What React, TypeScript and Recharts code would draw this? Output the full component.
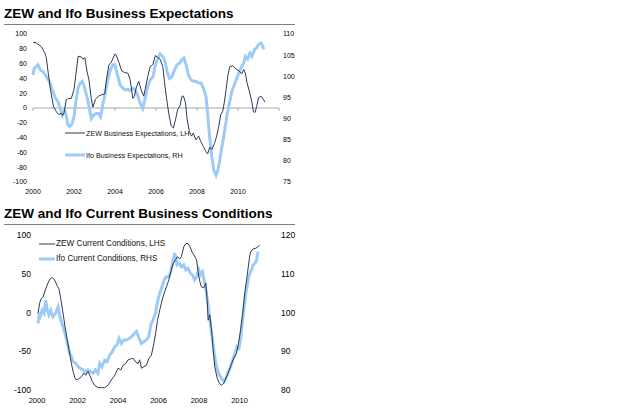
import React from "react";
import { Line, LineChart, ReferenceLine, XAxis, YAxis } from "recharts";

// ---- data (decimal year, value) ----
const zewExpectations: [number, number][] = [
  [2000.0, 89], [2000.16, 88], [2000.4, 83], [2000.57, 75], [2000.65, 68], [2000.73, 50],
  [2000.85, 25], [2001.0, 2], [2001.14, -5], [2001.27, -9], [2001.38, -7], [2001.45, -10],
  [2001.52, -6], [2001.62, 11], [2001.74, 13], [2001.87, 13], [2002.0, 25], [2002.1, 47],
  [2002.2, 70], [2002.35, 69], [2002.43, 66], [2002.53, 68], [2002.63, 50], [2002.73, 38],
  [2002.84, 13], [2002.92, 1], [2003.05, 12], [2003.2, 16], [2003.36, 18], [2003.5, 19],
  [2003.57, 36], [2003.7, 58], [2003.82, 62], [2004.0, 73], [2004.05, 72], [2004.2, 61],
  [2004.33, 50], [2004.46, 48], [2004.63, 47], [2004.74, 38], [2004.87, 13], [2004.95, 16],
  [2005.03, 27], [2005.16, 36], [2005.28, 24], [2005.4, 16], [2005.47, 25], [2005.6, 43],
  [2005.72, 56], [2005.85, 59], [2005.97, 71], [2006.09, 68], [2006.2, 66], [2006.33, 56],
  [2006.41, 36], [2006.5, 16], [2006.62, -7], [2006.74, -24], [2006.85, -27], [2006.95, -16],
  [2007.06, -2], [2007.17, 3], [2007.27, 16], [2007.34, 16], [2007.44, 7], [2007.52, -16],
  [2007.63, -32], [2007.73, -38], [2007.82, -34], [2007.95, -43], [2008.08, -38], [2008.18, -45],
  [2008.31, -52], [2008.44, -59], [2008.52, -62], [2008.62, -53], [2008.72, -56], [2008.85, -48],
  [2008.96, -38], [2009.06, -25], [2009.16, -9], [2009.25, -5], [2009.33, 7], [2009.42, 25],
  [2009.5, 43], [2009.6, 56], [2009.74, 57], [2009.85, 54], [2009.94, 52], [2010.06, 50],
  [2010.18, 46], [2010.28, 52], [2010.36, 47], [2010.44, 34], [2010.55, 23], [2010.67, 9],
  [2010.75, -5], [2010.83, -6], [2010.91, 2], [2011.0, 14], [2011.12, 16], [2011.23, 12],
  [2011.31, 8],
];

const ifoExpectations: [number, number][] = [
  [2000.0, 100.3], [2000.06, 101.9], [2000.16, 102.3], [2000.24, 102.7], [2000.36, 101.5],
  [2000.49, 101.1], [2000.6, 100.3], [2000.7, 99.5], [2000.81, 98.7], [2000.89, 97.4],
  [2000.97, 96.4], [2001.1, 94.8], [2001.22, 94.0], [2001.33, 92.4], [2001.43, 90.8],
  [2001.54, 92.0], [2001.62, 90.8], [2001.7, 88.5], [2001.79, 88.1], [2001.9, 88.7],
  [2002.0, 90.4], [2002.08, 93.6], [2002.2, 97.2], [2002.3, 98.4], [2002.4, 98.8],
  [2002.5, 97.6], [2002.63, 95.2], [2002.73, 93.0], [2002.84, 90.0], [2002.95, 90.8],
  [2003.08, 91.2], [2003.2, 91.2], [2003.3, 90.4], [2003.4, 93.2], [2003.54, 96.4],
  [2003.65, 99.2], [2003.77, 101.5], [2003.9, 102.7], [2004.0, 102.7], [2004.1, 100.7],
  [2004.25, 98.0], [2004.38, 97.2], [2004.5, 96.8], [2004.63, 96.9], [2004.74, 96.6],
  [2004.87, 97.2], [2004.98, 96.8], [2005.1, 95.6], [2005.2, 94.0], [2005.35, 92.4],
  [2005.47, 94.8], [2005.6, 97.6], [2005.72, 99.2], [2005.85, 99.9], [2005.97, 102.7],
  [2006.09, 104.3], [2006.2, 105.3], [2006.33, 104.7], [2006.44, 103.5], [2006.54, 101.1],
  [2006.66, 99.5], [2006.78, 99.9], [2006.9, 101.5], [2007.03, 102.7], [2007.14, 103.1],
  [2007.26, 103.9], [2007.36, 104.3], [2007.47, 102.7], [2007.58, 100.3], [2007.71, 99.2],
  [2007.82, 98.8], [2007.95, 98.8], [2008.07, 98.4], [2008.2, 98.4], [2008.31, 97.2],
  [2008.44, 95.2], [2008.52, 91.2], [2008.6, 86.5], [2008.72, 81.0], [2008.82, 77.8],
  [2008.93, 76.6], [2009.0, 77.4], [2009.1, 79.8], [2009.2, 82.9], [2009.29, 85.3],
  [2009.38, 88.1], [2009.46, 90.8], [2009.58, 93.6], [2009.7, 96.4], [2009.82, 98.0],
  [2009.94, 99.5], [2010.06, 101.1], [2010.18, 102.3], [2010.28, 103.1], [2010.36, 104.7],
  [2010.47, 104.1], [2010.58, 105.5], [2010.68, 104.7], [2010.8, 106.3], [2010.9, 106.7],
  [2011.0, 107.5], [2011.12, 107.9], [2011.2, 107.2], [2011.25, 106.4],
];

const zewCurrent: [number, number][] = [
  [2000.05, -1], [2000.13, 12], [2000.21, 18], [2000.3, 20], [2000.41, 29], [2000.54, 38],
  [2000.66, 44], [2000.76, 45], [2000.87, 42], [2000.99, 35], [2001.09, 30], [2001.17, 18],
  [2001.29, -1], [2001.38, -18], [2001.48, -33], [2001.58, -48], [2001.7, -66], [2001.78, -76],
  [2001.88, -85], [2001.98, -87], [2002.08, -85], [2002.19, -83], [2002.31, -78], [2002.41, -81],
  [2002.52, -76], [2002.64, -83], [2002.73, -89], [2002.85, -94], [2003.01, -97], [2003.18, -97],
  [2003.34, -97], [2003.51, -94], [2003.67, -87], [2003.84, -81], [2004.0, -72], [2004.14, -74],
  [2004.25, -68], [2004.38, -66], [2004.5, -61], [2004.61, -60], [2004.74, -59], [2004.88, -64],
  [2004.99, -66], [2005.07, -61], [2005.16, -72], [2005.27, -70], [2005.4, -68], [2005.53, -59],
  [2005.65, -55], [2005.77, -40], [2005.87, -25], [2005.95, -10], [2006.06, 3], [2006.18, 16],
  [2006.28, 25], [2006.39, 33], [2006.51, 42], [2006.61, 53], [2006.72, 63], [2006.84, 68],
  [2006.94, 72], [2007.05, 69], [2007.13, 72], [2007.25, 85], [2007.35, 89], [2007.46, 89],
  [2007.55, 85], [2007.66, 78], [2007.76, 74], [2007.88, 68], [2007.96, 51], [2008.04, 40],
  [2008.12, 33], [2008.24, 32], [2008.34, 38], [2008.4, 18], [2008.45, -10], [2008.53, -3],
  [2008.62, -23], [2008.7, -48], [2008.78, -70], [2008.9, -85], [2009.0, -91], [2009.11, -94],
  [2009.23, -91], [2009.36, -83], [2009.5, -74], [2009.61, -66], [2009.72, -59], [2009.85, -53],
  [2009.95, -40], [2010.05, -23], [2010.15, -3], [2010.26, 25], [2010.38, 48], [2010.48, 68],
  [2010.54, 78], [2010.67, 82], [2010.81, 83], [2010.92, 85], [2011.0, 87],
];

const ifoCurrent: [number, number][] = [
  [2000.05, 97.2], [2000.1, 99.4], [2000.16, 98.9], [2000.26, 100.6], [2000.35, 99.8],
  [2000.43, 103.2], [2000.51, 100.6], [2000.59, 99.4], [2000.68, 100.6], [2000.79, 98.9],
  [2000.92, 99.8], [2001.04, 101.5], [2001.12, 99.4], [2001.2, 97.6], [2001.29, 96.3],
  [2001.4, 94.2], [2001.5, 92.0], [2001.61, 89.5], [2001.7, 88.6], [2001.78, 87.3],
  [2001.91, 86.9], [2002.03, 86.0], [2002.14, 85.6], [2002.27, 85.2], [2002.41, 84.7],
  [2002.52, 85.2], [2002.64, 84.7], [2002.77, 84.3], [2002.88, 85.2], [2003.01, 84.3],
  [2003.1, 86.9], [2003.21, 86.0], [2003.34, 87.7], [2003.46, 87.3], [2003.59, 89.0],
  [2003.72, 89.9], [2003.84, 91.2], [2003.95, 91.6], [2004.05, 93.3], [2004.17, 92.0],
  [2004.28, 92.9], [2004.42, 92.9], [2004.55, 93.3], [2004.68, 93.8], [2004.81, 94.6],
  [2004.91, 95.1], [2005.04, 93.3], [2005.16, 92.0], [2005.29, 92.5], [2005.4, 92.9],
  [2005.52, 93.8], [2005.62, 96.8], [2005.73, 98.1], [2005.85, 99.8], [2005.95, 102.8],
  [2006.06, 104.9], [2006.18, 106.7], [2006.28, 108.4], [2006.39, 109.2], [2006.51, 109.2],
  [2006.61, 110.5], [2006.72, 113.5], [2006.81, 115.3], [2006.92, 112.3], [2007.02, 112.7],
  [2007.13, 111.8], [2007.25, 112.3], [2007.35, 111.0], [2007.46, 111.4], [2007.58, 110.1],
  [2007.68, 109.7], [2007.79, 108.4], [2007.88, 109.2], [2007.99, 111.0], [2008.07, 109.7],
  [2008.17, 110.5], [2008.25, 108.4], [2008.34, 105.8], [2008.42, 103.2], [2008.5, 99.8],
  [2008.58, 96.3], [2008.67, 92.9], [2008.75, 89.5], [2008.83, 86.9], [2008.91, 85.2],
  [2009.0, 83.9], [2009.11, 83.0], [2009.23, 82.2], [2009.33, 83.0], [2009.45, 84.7],
  [2009.56, 86.0], [2009.69, 88.2], [2009.8, 89.9], [2009.88, 91.2], [2009.98, 90.8],
  [2010.07, 93.8], [2010.15, 98.1], [2010.23, 101.5], [2010.31, 104.9], [2010.4, 107.5],
  [2010.48, 109.7], [2010.59, 111.0], [2010.67, 112.3], [2010.76, 112.7], [2010.84, 113.5],
  [2010.91, 115.7],
];

const yearTicks = [2000, 2002, 2004, 2006, 2008, 2010];
const zeroLineTicks = [2000, 2002, 2004, 2006, 2008, 2010, 2012];
const expLeftTicks = [-100, -80, -60, -40, -20, 0, 20, 40, 60, 80, 100];
const expRightTicks = [75, 80, 85, 90, 95, 100, 105, 110];
const curLeftTicks = [-100, -50, 0, 50, 100];
const curRightTicks = [80, 90, 100, 110, 120];

const DARK = "#2b3a58";
const LIGHT = "#9dcaf6";
const FONT = "'Liberation Sans', Arial, sans-serif";

const toRows = (pts: [number, number][]) => pts.map(([x, v]) => ({ x, v }));

const Title = ({ text, top }: { text: string; top: number }) => (
  <div style={{ position: "absolute", left: 4, top, width: 291 }}>
    <div style={{ fontFamily: FONT, fontWeight: 700, fontSize: 13.5, color: "#000", lineHeight: "16px", whiteSpace: "nowrap" }}>
      {text}
    </div>
    <div style={{ marginTop: 2, height: 1, background: "#7f7f7f" }} />
  </div>
);

// legend drawn beside the chart so it does not take space from the plot
const LegendRows = ({ items, rowHeight, lineWidth, fontSize, left, top }: any) => (
  <div style={{ position: "absolute", left, top, fontFamily: FONT, fontSize, color: "#111" }}>
    {items.map((it: any) => (
      <div key={it.label} style={{ display: "flex", alignItems: "center", height: rowHeight }}>
        <svg width={lineWidth} height={6} style={{ marginRight: 1 }}>
          <line x1={0} y1={3} x2={lineWidth} y2={3} stroke={it.color} strokeWidth={it.width} />
        </svg>
        <span style={{ whiteSpace: "nowrap" }}>{it.label}</span>
      </div>
    ))}
  </div>
);

const tickStyle = (size: number) => ({ fontSize: size, fill: "#000", fontFamily: FONT });

export default function App() {
  return (
    <div style={{ position: "absolute", left: 0, top: 0, width: 640, height: 409, background: "#fff", overflow: "hidden" }}>
      <Title text="ZEW and Ifo Business Expectations" top={6} />
      <div style={{ position: "absolute", left: 0, top: 28 }}>
        <LineChart width={300} height={175} margin={{ top: 6, right: 0, bottom: 0, left: 0 }}>
          <XAxis
            type="number"
            dataKey="x"
            domain={[2000, 2012]}
            ticks={yearTicks}
            axisLine={false}
            tickLine={false}
            tickSize={0}
            tickMargin={7}
            height={21}
            tick={tickStyle(7)}
            allowDuplicatedCategory={false}
          />
          <YAxis
            yAxisId="left"
            domain={[-100, 100]}
            ticks={expLeftTicks}
            axisLine={false}
            tickLine={false}
            tickSize={0}
            tickMargin={6}
            width={33}
            tick={tickStyle(7)}
            interval={0}
          />
          <YAxis
            yAxisId="right"
            orientation="right"
            domain={[75, 110]}
            ticks={expRightTicks}
            axisLine={false}
            tickLine={false}
            tickSize={0}
            tickMargin={4}
            width={21}
            tick={tickStyle(7)}
            interval={0}
          />
          <ReferenceLine yAxisId="left" y={0} stroke="#a6a6a6" strokeWidth={1} />
          {zeroLineTicks.map((t) => (
            <ReferenceLine
              key={t}
              yAxisId="left"
              segment={[{ x: t, y: 0 }, { x: t, y: -4 }]}
              stroke="#a6a6a6"
              strokeWidth={1}
            />
          ))}
          <Line
            yAxisId="right"
            data={toRows(ifoExpectations)}
            dataKey="v"
            name="Ifo Business Expectations, RH"
            stroke={LIGHT}
            strokeWidth={3}
            dot={false}
            type="linear"
            isAnimationActive={false}
          />
          <Line
            yAxisId="left"
            data={toRows(zewExpectations)}
            dataKey="v"
            name="ZEW Business Expectations, LH"
            stroke={DARK}
            strokeWidth={1}
            dot={false}
            type="linear"
            isAnimationActive={false}
          />
        </LineChart>
      </div>
      <LegendRows
        left={65}
        top={122}
        rowHeight={22}
        lineWidth={20}
        fontSize={7.2}
        items={[
          { label: "ZEW Business Expectations, LH", color: DARK, width: 1 },
          { label: "Ifo Business Expectations, RH", color: LIGHT, width: 3 },
        ]}
      />

      <Title text="ZEW and Ifo Current Business Conditions" top={206} />
      <div style={{ position: "absolute", left: 0, top: 228 }}>
        <LineChart width={300} height={181} margin={{ top: 7, right: 0, bottom: 0, left: 0 }}>
          <XAxis
            type="number"
            dataKey="x"
            domain={[2000, 2012]}
            ticks={yearTicks}
            axisLine={false}
            tickLine={false}
            tickSize={0}
            tickMargin={8}
            height={19}
            tick={tickStyle(7.5)}
            allowDuplicatedCategory={false}
          />
          <YAxis
            yAxisId="left"
            domain={[-100, 100]}
            ticks={curLeftTicks}
            axisLine={false}
            tickLine={false}
            tickSize={0}
            tickMargin={6}
            width={37}
            tick={tickStyle(8.5)}
            interval={0}
          />
          <YAxis
            yAxisId="right"
            orientation="right"
            domain={[80, 120]}
            ticks={curRightTicks}
            axisLine={false}
            tickLine={false}
            tickSize={0}
            tickMargin={1}
            width={20}
            tick={tickStyle(8.5)}
            interval={0}
          />
          <Line
            yAxisId="right"
            data={toRows(ifoCurrent)}
            dataKey="v"
            name="Ifo Current Conditions, RHS"
            stroke={LIGHT}
            strokeWidth={3}
            dot={false}
            type="linear"
            isAnimationActive={false}
          />
          <Line
            yAxisId="left"
            data={toRows(zewCurrent)}
            dataKey="v"
            name="ZEW Current Conditions, LHS"
            stroke={DARK}
            strokeWidth={1}
            dot={false}
            type="linear"
            isAnimationActive={false}
          />
        </LineChart>
      </div>
      <LegendRows
        left={39}
        top={236}
        rowHeight={15}
        lineWidth={16}
        fontSize={8.2}
        items={[
          { label: "ZEW Current Conditions, LHS", color: DARK, width: 1 },
          { label: "Ifo Current Conditions, RHS", color: LIGHT, width: 3 },
        ]}
      />
    </div>
  );
}
